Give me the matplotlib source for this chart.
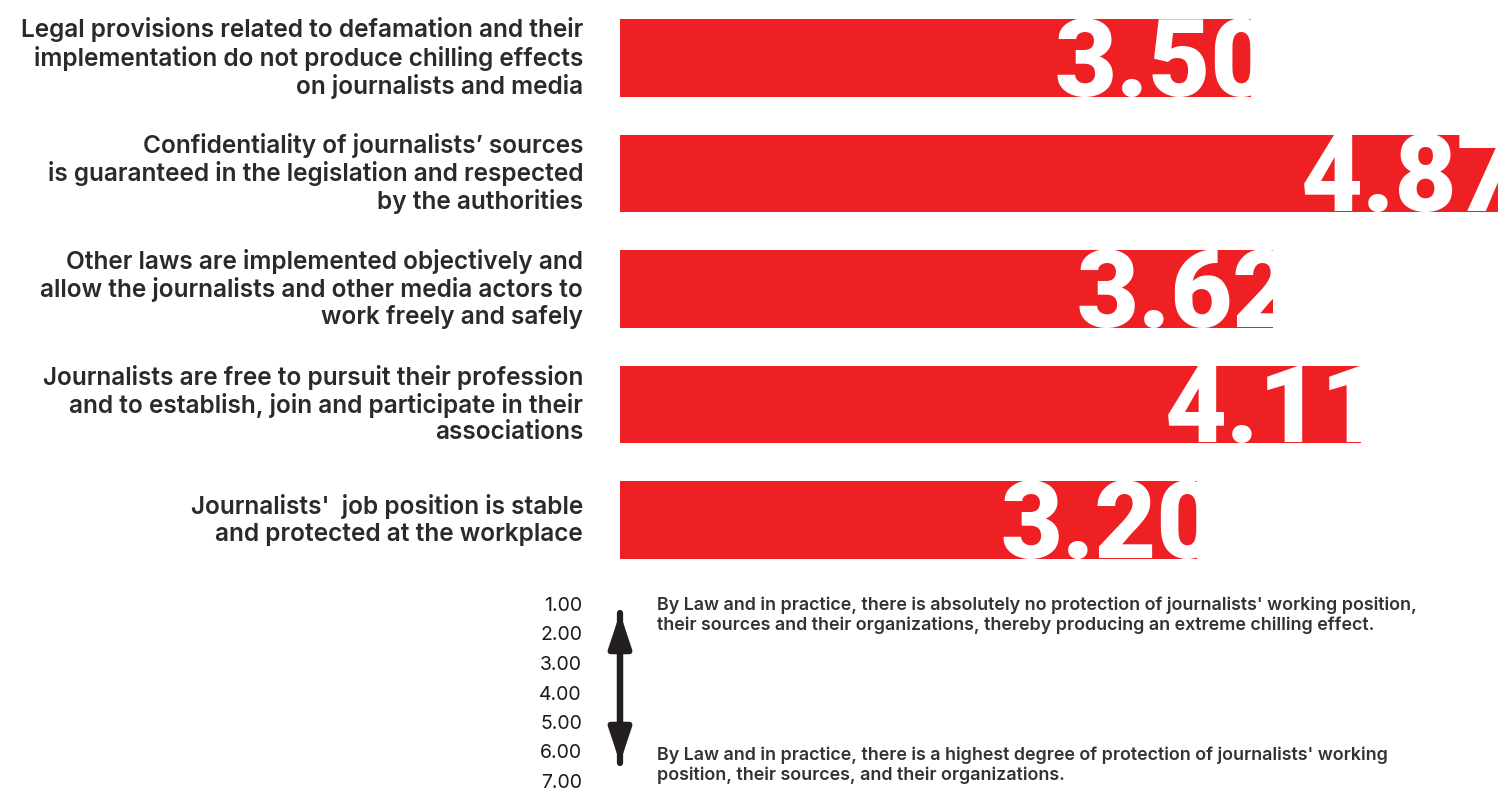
import matplotlib
matplotlib.use("Agg")
import matplotlib.pyplot as plt
from matplotlib.patches import FancyArrowPatch

categories = [
    "Legal provisions related to defamation and their\nimplementation do not produce chilling effects\non journalists and media",
    "Confidentiality of journalists\u2019 sources\nis guaranteed in the legislation and respected\nby the authorities",
    "Other laws are implemented objectively and\nallow the journalists and other media actors to\nwork freely and safely",
    "Journalists are free to pursuit their profession\nand to establish, join and participate in their\nassociations",
    "Journalists'  job position is stable\nand protected at the workplace",
]
values = [3.50, 4.87, 3.62, 4.11, 3.20]
scale_labels = ["1.00", "2.00", "3.00", "4.00", "5.00", "6.00", "7.00"]
legend_top = "By Law and in practice, there is absolutely no protection of journalists' working position,\ntheir sources and their organizations, thereby producing an extreme chilling effect."
legend_bottom = "By Law and in practice, there is a highest degree of protection of journalists' working\nposition, their sources, and their organizations."

RED = "#EE2024"
TEXT = "#2A2A2A"
W, H = 1511, 794

fig = plt.figure(figsize=(W / 100, H / 100), dpi=100)
fig.patch.set_facecolor("white")

ax_left, ax_right = 620 / W, 1498 / W
ax_top_px, ax_bot_px = 0.25, 577.75
ax = fig.add_axes([ax_left, 1 - ax_bot_px / H, ax_right - ax_left, (ax_bot_px - ax_top_px) / H])

ypos = list(range(len(values)))
bar_h = 0.67
bars = ax.barh(ypos, values, height=bar_h, color=RED, edgecolor="none")
ax.set_xlim(0, 4.87)
ax.set_ylim(len(values) - 0.5, -0.5)
for s in ax.spines.values():
    s.set_visible(False)
ax.set_xticks([])
ax.set_yticks(ypos)
ax.set_yticklabels(categories, fontsize=17.6, fontweight="semibold", color=TEXT,
                   family=["Inter", "DejaVu Sans"], linespacing=1.17)
for lbl in ax.get_yticklabels():
    lbl.set_verticalalignment("center")
ax.tick_params(axis="y", length=0, pad=26.5)

for rect, v, y in zip(bars, values, ypos):
    t = ax.annotate(f"{v:.2f}", xy=(v, y + bar_h / 2), xytext=(22, 1),
                    textcoords="offset pixels", ha="right", va="baseline",
                    fontsize=77, fontweight="black", color="white",
                    family=["Roboto", "DejaVu Sans"], annotation_clip=False)
    t.set_clip_path(rect)

# scale labels
for i, lab in enumerate(scale_labels):
    y_px = 606 + i * 29.5
    fig.text(582 / W, 1 - y_px / H, lab, ha="right", va="center", fontsize=14,
             color="#1A1A1A", family=["Inter", "DejaVu Sans"])

for a, b in [((620, 763), (620, 613)), ((620, 613), (620, 763))]:
    arrow = FancyArrowPatch((a[0] / W, 1 - a[1] / H), (b[0] / W, 1 - b[1] / H),
                            transform=fig.transFigure,
                            arrowstyle="-|>,head_length=1.45,head_width=0.48",
                            mutation_scale=14, linewidth=4.5, color="#231F20",
                            shrinkA=0, shrinkB=0)
    fig.add_artist(arrow)

fig.text(657 / W, 1 - 597 / H, legend_top, ha="left", va="top", fontsize=12.9,
         fontweight="semibold", color="#333333", family=["Inter", "DejaVu Sans"],
         linespacing=1.12)
fig.text(657 / W, 1 - 747 / H, legend_bottom, ha="left", va="top", fontsize=12.9,
         fontweight="semibold", color="#333333", family=["Inter", "DejaVu Sans"],
         linespacing=1.12)

fig.savefig("out.png", dpi=100, facecolor="white")
